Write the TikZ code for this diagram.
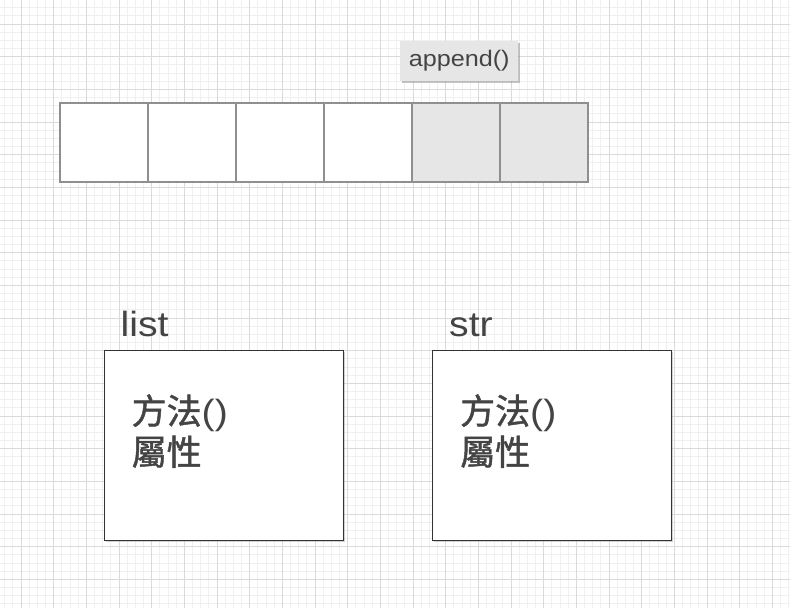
\documentclass[tikz,border=0pt]{standalone}
\usepackage{fontspec}
\setmainfont{Liberation Sans}
\newfontfamily\lat[FakeStretch=1.12]{Liberation Sans}
\newfontfamily\cjk[FakeBold=1.3]{Noto Sans CJK TC}
\usetikzlibrary{shadows}
\definecolor{minorc}{HTML}{F0F0F0}
\definecolor{majorc}{HTML}{DADADA}
\definecolor{cellline}{HTML}{8F8F8F}
\definecolor{cellgray}{HTML}{E6E6E6}
\definecolor{textc}{HTML}{444444}
\definecolor{boxline}{HTML}{333333}
\tikzset{
  minorline/.style={draw=minorc, line width=0.8pt},
  majorline/.style={draw=majorc, line width=1pt},
  cell/.style={draw=cellline, line width=1.3pt, fill=white, anchor=north west,
    minimum width=88pt, minimum height=79pt, inner sep=0pt, outer sep=0pt},
  grayc/.style={cell, fill=cellgray},
  bigbox/.style={draw=boxline, line width=1pt, fill=white, anchor=north west,
    minimum width=239pt, minimum height=190pt, inner sep=0pt, outer sep=0pt,
    drop shadow={shadow xshift=1.5pt, shadow yshift=-1.5pt, opacity=0.35}},
  apbox/.style={fill=cellgray, minimum width=118pt, minimum height=40pt, inner sep=0pt,
    text=textc, font=\lat\fontsize{22.5}{25}\selectfont,
    drop shadow={shadow xshift=2pt, shadow yshift=-2pt, opacity=0.45}},
  lbl/.style={anchor=base west, inner sep=0pt, text=textc, font=\lat\fontsize{35}{40}\selectfont},
  body/.style={anchor=base west, inner sep=0pt, text=textc, font=\cjk\fontsize{35}{41}\selectfont}
}
\begin{document}
\begin{tikzpicture}[x=1pt,y=-1pt]
\useasboundingbox (0,0) rectangle (790,608);
\fill[white] (0,0) rectangle (790,608);
% grid
\foreach \i in {-2,...,94} {\draw[minorline] ({21+8.1667*\i},0) -- ++(0,608);}
\foreach \i in {-2,...,72} {\draw[minorline] (0,{24+8.1667*\i}) -- ++(790,0);}
\foreach \i in {0,...,23} {\draw[majorline] ({21+32.667*\i},0) -- ++(0,608);}
\foreach \i in {0,...,17} {\draw[majorline] (0,{24+32.667*\i}) -- ++(790,0);}
% array cells
\node[cell] (c1) at (60,103) {};
\node[cell] (c2) at (148,103) {};
\node[cell] (c3) at (236,103) {};
\node[cell] (c4) at (324,103) {};
\node[grayc] (c5) at (412,103) {};
\node[grayc] (c6) at (500,103) {};
% append
\node[apbox] (ap) at (459.2,60.7) {append()};
% list and str boxes
\node[bigbox] (listbox) at (104,350) {};
\node[bigbox] (strbox) at (432,350) {};
\node[lbl] (listlbl) at (120.5,336) {list};
\node[lbl] (strlbl) at (449,336) {str};
\node[body] (lm) at (131.5,424) {方法{\lat()}};
\node[body] (la) at (131.5,465) {屬性};
\node[body] (sm) at (460,424) {方法{\lat()}};
\node[body] (sa) at (460,465) {屬性};
\end{tikzpicture}
\end{document}
